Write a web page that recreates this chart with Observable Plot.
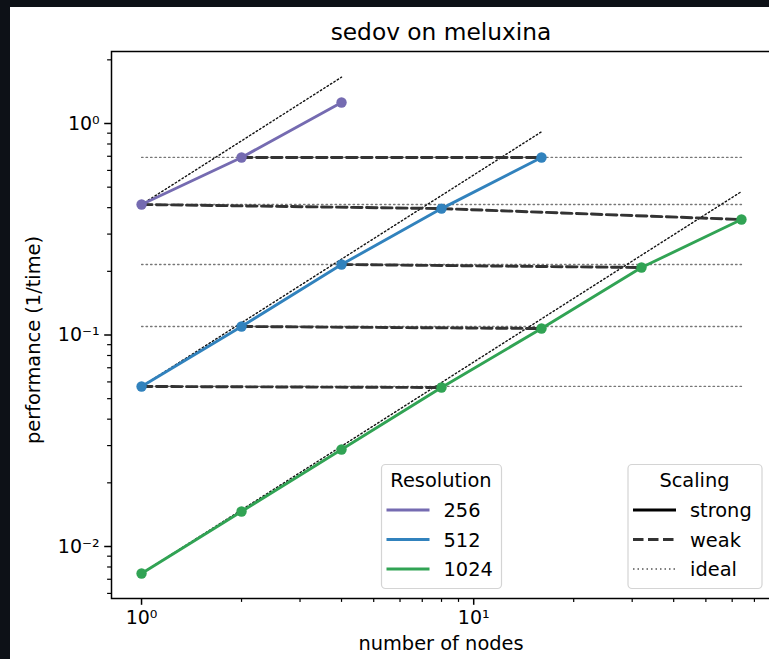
<!DOCTYPE html>
<html><head><meta charset="utf-8">
<script src="https://cdn.jsdelivr.net/npm/d3@7"></script>
<script src="https://cdn.jsdelivr.net/npm/@observablehq/plot@0.6"></script>
<style>
html,body{margin:0;padding:0;background:#0d1117;overflow:hidden;width:769px;height:659px;}
#paper{position:absolute;left:10px;top:7px;width:800px;height:700px;background:#fff;}
#chart{position:absolute;left:0;top:0;width:800px;height:659px;}
#chart svg{max-width:none !important;}
svg{font-family:"DejaVu Sans",sans-serif;}
</style></head><body>
<div id="paper"></div><div id="chart"></div>
<script>
// ---- data ----
const title = "sedov on meluxina";
const xLabel = "number of nodes";
const yLabel = "performance (1/time)";
const resolutions = ["256", "512", "1024"];
const colors = ["#756bb1", "#3182bd", "#31a354"];
const nodes256 = [1, 2, 4];
const perf256 = [0.414, 0.691, 1.257];
const nodes512 = [1, 2, 4, 8, 16];
const perf512 = [0.0571, 0.1097, 0.2155, 0.396, 0.691];
const nodes1024 = [1, 2, 4, 8, 16, 32, 64];
const perf1024 = [0.00745, 0.01464, 0.02875, 0.05646, 0.1073, 0.2085, 0.3516];
const xTicks = [1, 10];
const xTickLabels = ["10⁰", "10¹"];
const yTicks = [0.01, 0.1, 1];
const yTickLabels = ["10⁻²", "10⁻¹", "10⁰"];
const xMinor = [2, 3, 4, 5, 6, 7, 8, 9, 20, 30, 40, 50, 60, 70];
const yMinor = [0.006, 0.007, 0.008, 0.009, 0.02, 0.03, 0.04, 0.05, 0.06, 0.07, 0.08, 0.09, 0.2, 0.3, 0.4, 0.5, 0.6, 0.7, 0.8, 0.9, 2];
const scalingLabels = ["strong", "weak", "ideal"];

// ---- derived tables ----
const series = [nodes256, nodes512, nodes1024].map((ns, k) =>
  ns.map((n, i) => ({res: resolutions[k], n, perf: [perf256, perf512, perf1024][k][i]})));
const strong = series.flat();
const find = (res, n) => strong.find(d => d.res === res && d.n === n);
// weak scaling chains: doubling resolution with 8x nodes
const chains = [];
strong.forEach(p => {
  const k = resolutions.indexOf(p.res);
  const prev = k > 0 ? find(resolutions[k - 1], p.n / 8) : null;
  if (prev) return;
  const chain = [p];
  let cur = p, j = k;
  while (j + 1 < resolutions.length) {
    const nx = find(resolutions[j + 1], cur.n * 8);
    if (!nx) break;
    chain.push(nx); cur = nx; j++;
  }
  if (chain.length > 1) chains.push(chain);
});
const weak = chains.flatMap((c, id) => c.map(d => ({...d, id})));
const allN = strong.map(d => d.n);
const nMin = d3.min(allN), nMax = d3.max(allN);
const idealH = chains.flatMap((c, id) => [{id, n: nMin, perf: c[0].perf}, {id, n: nMax, perf: c[0].perf}]);
const idealD = series.flatMap(s => [
  {res: s[0].res, n: s[0].n, perf: s[0].perf},
  {res: s[0].res, n: s[s.length - 1].n, perf: s[0].perf * s[s.length - 1].n / s[0].n}]);

const plot = Plot.plot({
  width: 800, height: 659,
  marginLeft: 111, marginRight: 29, marginTop: 51, marginBottom: 61,
  style: {background: "transparent", fontFamily: "DejaVu Sans", fontSize: "19px", color: "#000", overflow: "visible", maxWidth: "none"},
  x: {type: "log", domain: [0.812, 78.8]},
  y: {type: "log", domain: [0.005677, 2.19]},
  color: {domain: resolutions, range: colors},
  marks: [
    Plot.line(idealH, {x: "n", y: "perf", z: "id", stroke: "#777", strokeWidth: 1.3, strokeDasharray: "1.5,3"}),
    Plot.line(idealD, {x: "n", y: "perf", z: "res", stroke: "#111", strokeWidth: 1.4, strokeDasharray: "1.5,2.5"}),
    Plot.line(weak, {x: "n", y: "perf", z: "id", stroke: "#333", strokeWidth: 2.9, strokeDasharray: "10.5,4.5"}),
    Plot.line(strong, {x: "n", y: "perf", z: "res", stroke: "res", strokeWidth: 2.9}),
    Plot.dot(strong, {x: "n", y: "perf", fill: "res", r: 5.2, stroke: null}),
    Plot.frame({stroke: "#000", strokeWidth: 1.5}),
    Plot.axisX(xMinor, {tickSize: 3.9, tickFormat: () => "", label: null, strokeWidth: 1.2}),
    Plot.axisY(yMinor, {tickSize: 3.9, tickFormat: () => "", label: null, strokeWidth: 1.2}),
    Plot.axisX(xTicks, {tickSize: 6.8, tickPadding: 5, strokeWidth: 1.5, fontSize: 19, label: null,
      tickFormat: d => xTickLabels[xTicks.indexOf(d)]}),
    Plot.axisY(yTicks, {tickSize: 6.8, tickPadding: 5, strokeWidth: 1.5, fontSize: 19, label: null,
      tickFormat: d => yTickLabels[yTicks.indexOf(d)]})
  ]
});
document.getElementById("chart").appendChild(plot);

// ---- title, axis labels, legends ----
const svg = d3.select(plot);
svg.append("text").attr("x", 441).attr("y", 40).attr("text-anchor", "middle")
  .attr("font-size", 23.3).attr("fill", "#000").text(title);
svg.append("text").attr("x", 441).attr("y", 650).attr("text-anchor", "middle")
  .attr("font-size", 19.4).attr("fill", "#000").text(xLabel);
svg.append("text").attr("transform", "translate(40,340) rotate(-90)").attr("text-anchor", "middle")
  .attr("font-size", 19.4).attr("fill", "#000").text(yLabel);

function legend(x0, w, ttl, items) {
  const g = svg.append("g").attr("text-anchor", "start");
  g.append("rect").attr("x", x0 + 0.5).attr("y", 464.5).attr("width", w).attr("height", 124)
    .attr("rx", 4).attr("fill", "rgba(255,255,255,0.8)").attr("stroke", "#d4d4d4").attr("stroke-width", 1.2);
  g.append("text").attr("x", x0 + w / 2).attr("y", 487).attr("text-anchor", "middle")
    .attr("font-size", 19.4).attr("fill", "#000").text(ttl);
  items.forEach((it, i) => {
    const y = 510 + i * 29.5;
    g.append("line").attr("x1", x0 + 5.5).attr("x2", x0 + 48.5).attr("y1", y).attr("y2", y)
      .attr("stroke", it.stroke).attr("stroke-width", it.width).attr("stroke-dasharray", it.dash || null);
    g.append("text").attr("x", x0 + 62.5).attr("y", y + 7.3).attr("text-anchor", "start")
      .attr("font-size", 19.4).attr("fill", "#000").text(it.label);
  });
}
legend(381, 120, "Resolution", resolutions.map((r, i) => ({label: r, stroke: colors[i], width: 2.9})));
legend(627.5, 134, "Scaling", [
  {label: scalingLabels[0], stroke: "#000", width: 2.9},
  {label: scalingLabels[1], stroke: "#333", width: 2.9, dash: "10.5,4.5"},
  {label: scalingLabels[2], stroke: "#555", width: 1.3, dash: "1.5,3"}
]);
</script>
</body></html>
